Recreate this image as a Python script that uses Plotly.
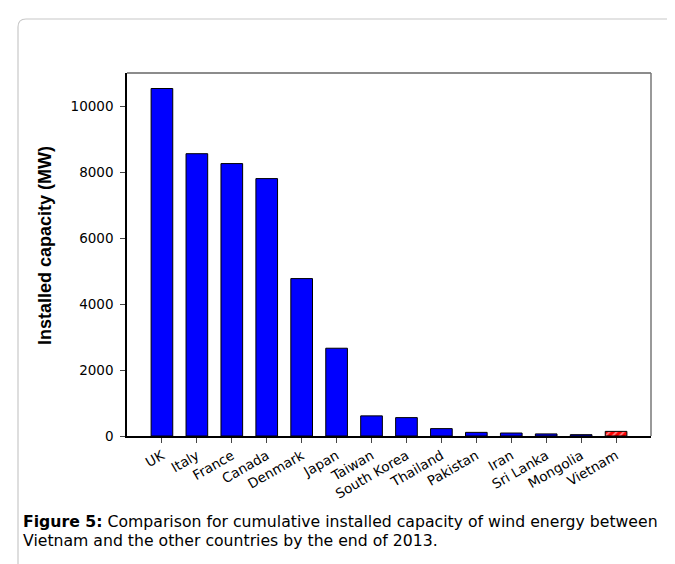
import plotly.graph_objects as go

countries = ["UK", "Italy", "France", "Canada", "Denmark", "Japan", "Taiwan",
             "South Korea", "Thailand", "Pakistan", "Iran", "Sri Lanka",
             "Mongolia", "Vietnam"]
capacity = [10530, 8555, 8255, 7800, 4770, 2660, 610, 557, 224, 110, 90, 63, 40, 140]
colors = ["#0000FF"] * 13 + ["#FF0000"]
patterns = [""] * 13 + ["/"]
y_ticks = [0, 2000, 4000, 6000, 8000, 10000]
caption_bold = "Figure 5:"
caption_line1 = " Comparison for cumulative installed capacity of wind energy between"
caption_line2 = "Vietnam and the other countries by the end of 2013."

W, H = 675, 564
L, R, T, B = 119, 32, 65, 136
PW, PH = W - L - R, H - T - B

def px(x):
    return (x - L) / PW

def py(y):
    return (H - B - y) / PH

TICKFONT = "DejaVu Sans, Arial, sans-serif"
FONT = "Arial, Liberation Sans, sans-serif"

fig = go.Figure()
fig.add_trace(go.Bar(
    x=list(range(len(countries))), y=capacity, width=0.62,
    marker=dict(color=colors, line=dict(color="black", width=1),
                pattern=dict(shape=patterns, fgcolor="black", bgcolor=colors,
                             size=5, solidity=0.35)),
    hoverinfo="x+y",
))

fig.update_layout(
    width=W, height=H,
    margin=dict(l=L, r=R, t=T, b=B),
    paper_bgcolor="white", plot_bgcolor="white",
    showlegend=False,
    font=dict(family=TICKFONT, color="black", size=14),
    xaxis=dict(range=[-1, 14], tickmode="array", tickvals=list(range(len(countries))),
               ticktext=countries, tickangle=-30, ticks="outside", ticklen=5,
               tickcolor="#444", showgrid=False, zeroline=False, showline=True,
               linecolor="black", linewidth=1.5,
               tickfont=dict(size=13.5, family=TICKFONT)),
    yaxis=dict(range=[0, 11000], tickvals=y_ticks, tickformat="d", ticks="outside",
               ticklen=5, tickcolor="#444", showgrid=False, zeroline=False,
               showline=True, linecolor="black", linewidth=1.5,
               ticklabelstandoff=4, tickfont=dict(size=13.5, family=TICKFONT)),
    shapes=[
        dict(type="line", xref="paper", yref="paper", x0=0, x1=1, y0=1, y1=1,
             line=dict(color="#666", width=1.5)),
        dict(type="line", xref="paper", yref="paper", x0=1, x1=1, y0=0, y1=1,
             line=dict(color="#777", width=1.5)),
        dict(type="path", xref="paper", yref="paper",
             path=(f"M {px(10)} {py(560)} L {px(10)} {py(19)} "
                   f"Q {px(10)} {py(11)} {px(18)} {py(11)} L {px(700)} {py(11)}"),
             line=dict(color="#c8c8c8", width=1.2)),
    ],
    annotations=[
        dict(text="<b>Installed capacity (MW)</b>", xref="paper", yref="paper",
             x=px(37), y=py(238), textangle=-90, showarrow=False,
             font=dict(size=18, family=FONT), xanchor="center", yanchor="middle"),
        dict(text=f"<b>{caption_bold}</b>{caption_line1}",
             xref="paper", yref="paper", x=px(13), y=py(513), xanchor="left",
             yanchor="middle", align="left", showarrow=False,
             font=dict(size=15.7, family=TICKFONT)),
        dict(text=caption_line2,
             xref="paper", yref="paper", x=px(13), y=py(532), xanchor="left",
             yanchor="middle", align="left", showarrow=False,
             font=dict(size=15.7, family=TICKFONT)),
    ],
)

fig.write_html("out.html")
